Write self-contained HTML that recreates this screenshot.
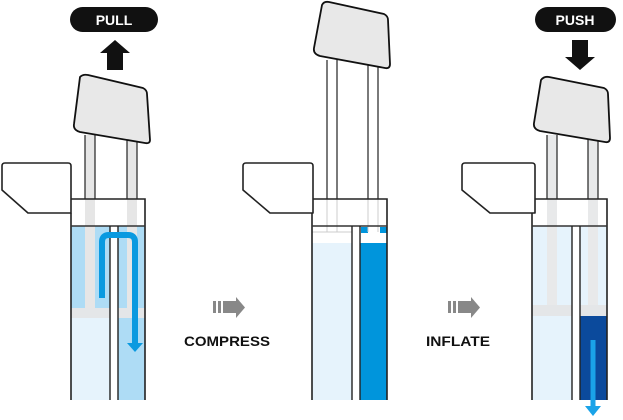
<!DOCTYPE html>
<html><head><meta charset="utf-8"><style>
html,body{margin:0;padding:0;background:#fff;width:623px;height:420px;overflow:hidden}
svg{display:block}
text{font-family:"Liberation Sans",sans-serif;font-weight:bold}
</style></head><body>
<svg width="623" height="420" viewBox="0 0 623 420" xmlns="http://www.w3.org/2000/svg">
<!-- ===== Panel 1 ===== -->
<rect x="70" y="7" width="88" height="25" rx="12.5" fill="#111"/>
<text x="114" y="25" font-size="14" fill="#fff" text-anchor="middle">PULL</text>
<polygon points="115,40 130,53 123,53 123,70 107,70 107,53 100,53" fill="#111"/>
<rect x="71" y="226" width="74" height="174" fill="#e6f3fc"/>
<rect x="71" y="226" width="39" height="82" fill="#aedcf5"/>
<rect x="118" y="226" width="27" height="174" fill="#aedcf5"/>
<rect x="71" y="308" width="74" height="10" fill="#e4e6e8"/>
<rect x="85" y="135" width="10" height="173" fill="#e6e6e6"/>
<rect x="127" y="135" width="10" height="173" fill="#e6e6e6"/>
<rect x="110" y="226" width="8" height="174" fill="#fff"/>
<g stroke="#222" stroke-width="1.2">
<line x1="85" y1="135" x2="85" y2="199"/><line x1="95" y1="135" x2="95" y2="199"/>
<line x1="127" y1="135" x2="127" y2="199"/><line x1="137" y1="135" x2="137" y2="199"/>
</g>
<path d="M2,166 Q2,163 5,163 L68,163 Q71,163 71,166 L71,213 L28,213 L2,190 Z" fill="#fff" stroke="#222" stroke-width="1.6" stroke-linejoin="round"/>
<path d="M71,199 L145,199 L145,400 M71,213 L71,400" fill="none" stroke="#222" stroke-width="1.6"/>
<line x1="71" y1="226" x2="145" y2="226" stroke="#333" stroke-width="1.4"/>
<line x1="110" y1="226" x2="110" y2="400" stroke="#222" stroke-width="1.4"/>
<line x1="118" y1="226" x2="118" y2="400" stroke="#222" stroke-width="1.4"/>
<path d="M102,298 L102,242 Q102,235 109,235 L128,235 Q135,235 135,242 L135,345" fill="none" stroke="#0a9ae0" stroke-width="6"/>
<polygon points="127,343 143,343 135,352" fill="#0a9ae0"/>
<path d="M80,77 Q83,74 88,75 L143,88 Q147,90 147,94 L150,140 Q150,144 145,143 L80,132 Q73,130 74,124 Z" fill="#e8e8e8" stroke="#111" stroke-width="1.8" stroke-linejoin="round"/>

<!-- arrow 1 -->
<g fill="#888">
<rect x="213" y="301" width="3" height="12"/><rect x="218" y="301" width="3" height="12"/><rect x="223" y="301" width="14" height="12"/>
<polygon points="236,297 245,307.5 236,318"/>
</g>
<text x="184" y="346" font-size="14" fill="#111" textLength="86" lengthAdjust="spacingAndGlyphs">COMPRESS</text>

<!-- ===== Panel 2 ===== -->
<rect x="312" y="243" width="40" height="157" fill="#e6f3fc"/>
<rect x="360" y="243" width="27" height="157" fill="#0095dc"/>
<rect x="361" y="227" width="7" height="6" fill="#0095dc"/>
<rect x="380" y="227" width="7" height="6" fill="#0095dc"/>
<g stroke="#222" stroke-width="1.2">
<line x1="327" y1="60" x2="327" y2="199"/><line x1="337" y1="60" x2="337" y2="199"/>
<line x1="368" y1="64" x2="368" y2="199"/><line x1="378" y1="64" x2="378" y2="199"/>
</g>
<g stroke="#ccc" stroke-width="1">
<line x1="327" y1="199" x2="327" y2="232"/><line x1="337" y1="199" x2="337" y2="232"/>
<line x1="368" y1="199" x2="368" y2="232"/><line x1="378" y1="199" x2="378" y2="232"/>
<line x1="312" y1="232" x2="352" y2="232"/>
</g>
<path d="M243,166 Q243,163 246,163 L310,163 Q313,163 313,166 L313,213 L270,213 L243,190 Z" fill="#fff" stroke="#222" stroke-width="1.6" stroke-linejoin="round"/>
<path d="M313,199 L387,199 L387,400 M312,213 L312,400" fill="none" stroke="#222" stroke-width="1.6"/>
<line x1="312" y1="226" x2="387" y2="226" stroke="#333" stroke-width="1.4"/>
<line x1="352" y1="226" x2="352" y2="400" stroke="#222" stroke-width="1.4"/>
<line x1="360" y1="226" x2="360" y2="400" stroke="#222" stroke-width="1.4"/>
<path d="M322,5 Q324,1 329,2 L384,14 Q388,16 388,20 L390,64 Q390,69 385,68 L320,56 Q313,54 314,48 Z" fill="#e8e8e8" stroke="#111" stroke-width="1.8" stroke-linejoin="round"/>

<!-- arrow 2 -->
<g fill="#888">
<rect x="448" y="301" width="3" height="12"/><rect x="453" y="301" width="3" height="12"/><rect x="458" y="301" width="14" height="12"/>
<polygon points="471,297 480,307.5 471,318"/>
</g>
<text x="426" y="346" font-size="14" fill="#111" textLength="64" lengthAdjust="spacingAndGlyphs">INFLATE</text>

<!-- ===== Panel 3 ===== -->
<rect x="535" y="7" width="81" height="25" rx="12.5" fill="#111"/>
<text x="575" y="25" font-size="14" fill="#fff" text-anchor="middle">PUSH</text>
<polygon points="580,70 595,57 588,57 588,40 572,40 572,57 565,57" fill="#111"/>
<rect x="532" y="226" width="75" height="174" fill="#e6f3fc"/>
<rect x="547" y="135" width="10" height="170" fill="#e8e9ea"/>
<rect x="588" y="135" width="10" height="170" fill="#e8e9ea"/>
<rect x="532" y="305" width="75" height="11" fill="#e4e6e8"/>
<rect x="580" y="316" width="27" height="84" fill="#0b4a9c"/>
<rect x="572" y="226" width="8" height="174" fill="#fff"/>
<g stroke="#222" stroke-width="1.2">
<line x1="547" y1="135" x2="547" y2="199"/><line x1="557" y1="135" x2="557" y2="199"/>
<line x1="588" y1="135" x2="588" y2="199"/><line x1="598" y1="135" x2="598" y2="199"/>
</g>
<path d="M462,166 Q462,163 465,163 L532,163 Q535,163 535,166 L535,213 L490,213 L462,190 Z" fill="#fff" stroke="#222" stroke-width="1.6" stroke-linejoin="round"/>
<path d="M535,199 L607,199 L607,400 M532,213 L532,400" fill="none" stroke="#222" stroke-width="1.6"/>
<line x1="532" y1="226" x2="607" y2="226" stroke="#333" stroke-width="1.4"/>
<line x1="572" y1="226" x2="572" y2="400" stroke="#222" stroke-width="1.4"/>
<line x1="580" y1="226" x2="580" y2="400" stroke="#222" stroke-width="1.4"/>
<line x1="593" y1="340" x2="593" y2="408" stroke="#1aa3e8" stroke-width="5"/>
<polygon points="585,406 601,406 593,416" fill="#1aa3e8"/>
<path d="M541,80 Q544,76 549,77 L604,88 Q608,90 608,94 L610,138 Q610,143 605,142 L540,131 Q533,129 534,123 Z" fill="#e8e8e8" stroke="#111" stroke-width="1.8" stroke-linejoin="round"/>
</svg>
</body></html>
